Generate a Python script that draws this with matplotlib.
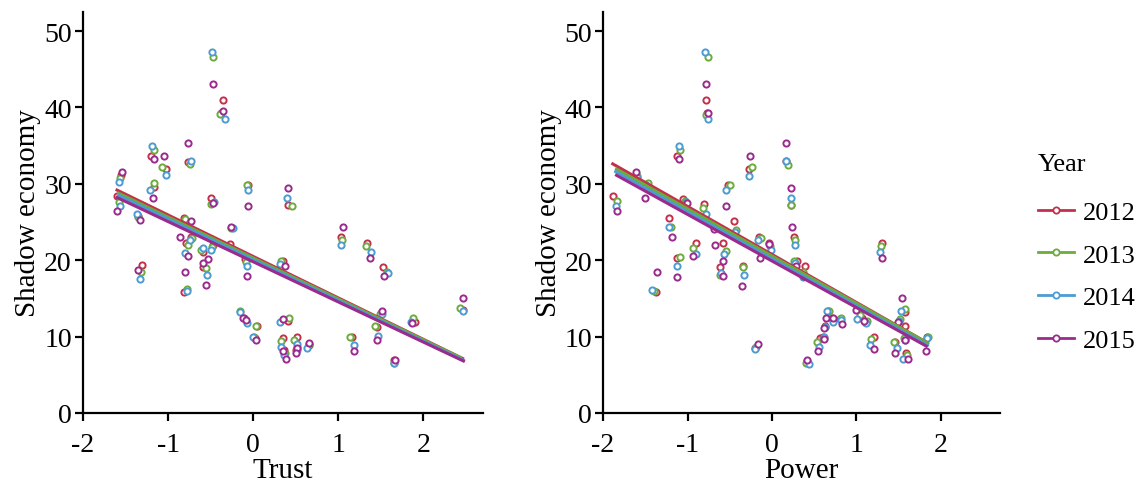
import numpy as np
import matplotlib
matplotlib.use("Agg")
import matplotlib.pyplot as plt
from matplotlib.lines import Line2D

# ---------- Data ----------
YEARS = [2012, 2013, 2014, 2015]
COLORS = ["#C4304C", "#6CAB3C", "#4C9BD2", "#9B2A8E"]

# Trust panel: one list per year
trust_x = [
    [-1.55, -1.60, -1.35, -1.31, -1.20, -1.03, -1.17, -0.77, -0.815, -0.73, -0.79, -0.81, -0.59, -0.585,
     -0.35, -0.38, -0.49, -0.27, -0.47, -0.06, -0.10, 0.41, 0.35, -0.11, 0.04, 0.02, 0.41, 0.35, 0.36,
     0.51, 0.50, 0.66, 1.03, 1.34, 1.525, 1.16, 1.50, 1.46, 1.90, 1.66, 2.46],
    [-1.56, -1.58, -1.35, -1.32, -1.16, -1.07, -1.17, -0.74, -0.80, -0.72, -0.76, -0.78, -0.61, -0.55,
     -0.47, -0.39, -0.50, -0.26, -0.48, -0.07, -0.08, 0.455, 0.33, -0.15, 0.03, 0.01, 0.415, 0.33, 0.37,
     0.48, 0.52, 0.66, 1.045, 1.33, 1.57, 1.14, 1.49, 1.435, 1.88, 1.65, 2.435],
    [-1.58, -1.565, -1.36, -1.33, -1.19, -1.03, -1.21, -0.73, -0.74, -0.74, -0.80, -0.78, -0.59, -0.54,
     -0.48, -0.33, -0.46, -0.24, -0.49, -0.06, -0.07, 0.40, 0.31, -0.16, -0.07, 0.0, 0.32, 0.33, 0.36,
     0.52, 0.52, 0.635, 1.035, 1.38, 1.58, 1.18, 1.51, 1.47, 1.86, 1.65, 2.47],
    [-1.545, -1.60, -1.33, -1.35, -1.17, -1.05, -1.18, -0.765, -0.73, -0.855, -0.765, -0.80, -0.53, -0.56,
     -0.47, -0.36, -0.47, -0.26, -0.59, -0.06, -0.07, 0.41, 0.37, -0.12, -0.09, 0.03, 0.35, 0.35, 0.38,
     0.51, 0.505, 0.65, 1.06, 1.37, 1.54, 1.18, 1.51, 1.45, 1.87, 1.67, 2.47],
]
trust_shadow = [
    [31.2, 28.4, 25.8, 19.4, 33.7, 31.9, 29.6, 32.8, 25.5, 23.1, 22.3, 15.8, 21.1, 19.1, 41.0, 39.3,
     28.1, 22.1, 22.0, 29.9, 20.2, 27.2, 19.95, 12.4, 11.4, 9.8, 12.0, 9.8, 8.2, 10.0, 8.3, 8.9, 23.1,
     22.3, 19.1, 10.0, 13.1, 11.3, 11.9, 7.0, 13.5],
    [30.8, 27.6, 25.6, 18.4, 34.4, 32.2, 30.1, 32.6, 25.4, 22.9, 22.0, 16.2, 21.3, 19.0, 46.6, 39.2,
     27.4, 24.2, 21.7, 29.8, 19.8, 27.1, 19.95, 13.4, 11.4, 9.9, 12.4, 9.4, 7.9, 9.55, 8.6, 9.0, 22.7,
     21.8, 18.4, 10.0, 13.0, 11.35, 12.4, 6.6, 13.7],
    [30.3, 27.1, 26.0, 17.6, 35.0, 31.1, 29.2, 33.0, 25.0, 22.6, 20.9, 16.0, 21.6, 18.1, 47.2, 38.5,
     27.6, 24.2, 21.4, 29.2, 19.3, 28.1, 19.5, 13.2, 11.8, 10.0, 11.9, 8.7, 7.6, 9.0, 8.2, 8.5, 22.0,
     21.1, 18.3, 8.9, 12.9, 10.1, 11.9, 6.5, 13.35],
    [31.6, 26.4, 25.3, 18.7, 33.3, 33.7, 28.1, 35.3, 25.2, 23.0, 20.5, 18.4, 20.2, 16.7, 43.1, 39.5,
     27.5, 24.3, 19.7, 27.1, 17.9, 29.5, 19.2, 12.5, 12.2, 9.6, 12.3, 8.15, 7.1, 8.5, 7.85, 9.1, 24.3,
     20.3, 17.9, 8.15, 13.3, 9.5, 11.8, 7.0, 15.1],
]

# Power panel: one list per year
power_x = [
    [-1.885, -1.61, -1.48, -1.12, -1.05, -1.22, -1.13, -1.37, -0.905, -0.78, -0.77, -0.81, -0.58, -0.62,
     -0.52, -0.445, -0.27, -0.34, -0.15, -0.03, -0.20, 0.17, 0.225, 0.265, 0.30, 0.39, 0.42, 0.57, 0.60,
     0.625, 0.66, 0.71, 0.81, 1.06, 1.10, 1.21, 1.305, 1.57, 1.58, 1.46, 1.59, 1.57, 1.83],
    [-1.84, -1.60, -1.47, -1.09, -1.03, -1.20, -1.085, -1.40, -0.94, -0.76, -0.78, -0.82, -0.55, -0.62,
     -0.50, -0.425, -0.24, -0.34, -0.13, -0.02, -0.19, 0.195, 0.225, 0.27, 0.26, 0.37, 0.40, 0.535, 0.61,
     0.625, 0.68, 0.72, 0.815, 1.04, 1.12, 1.175, 1.29, 1.57, 1.52, 1.45, 1.60, 1.56, 1.845],
    [-1.85, -1.60, -1.49, -1.105, -1.02, -1.22, -1.125, -1.415, -0.905, -0.79, -0.76, -0.78, -0.57, -0.60,
     -0.54, -0.44, -0.275, -0.33, -0.16, -0.01, -0.20, 0.17, 0.225, 0.275, 0.27, 0.37, 0.44, 0.56, 0.61,
     0.63, 0.65, 0.72, 0.82, 1.005, 1.11, 1.165, 1.28, 1.53, 1.50, 1.48, 1.55, 1.57, 1.84],
    [-1.84, -1.605, -1.50, -1.10, -1.01, -1.18, -1.125, -1.36, -0.94, -0.78, -0.76, -0.69, -0.58, -0.58,
     -0.54, -0.68, -0.26, -0.35, -0.14, -0.03, -0.17, 0.165, 0.225, 0.24, 0.29, 0.38, 0.41, 0.55, 0.61,
     0.62, 0.64, 0.72, 0.825, 0.99, 1.09, 1.21, 1.305, 1.54, 1.495, 1.46, 1.61, 1.57, 1.825],
]
power_shadow = [
    [28.4, 31.2, 30.0, 33.7, 28.0, 25.5, 20.25, 15.8, 22.25, 41.0, 39.3, 27.4, 22.2, 19.1, 29.9, 25.2,
     31.9, 19.3, 23.0, 22.25, 8.5, 33.0, 27.2, 23.1, 19.85, 19.3, 6.8, 9.8, 9.9, 11.4, 13.3, 12.5, 12.3,
     12.4, 11.9, 10.0, 22.3, 13.2, 11.35, 9.25, 7.8, 9.7, 9.9],
    [27.8, 31.0, 30.05, 34.4, 27.8, 24.4, 20.4, 16.0, 21.6, 46.6, 39.0, 26.8, 21.25, 18.1, 29.8, 24.0,
     32.2, 19.1, 22.9, 21.9, 8.6, 32.5, 27.2, 22.7, 19.85, 18.5, 6.6, 9.25, 9.8, 11.2, 13.4, 12.2, 12.5,
     12.8, 12.0, 9.7, 21.8, 13.6, 12.3, 9.3, 7.6, 9.8, 10.0],
    [27.1, 30.9, 29.9, 35.0, 27.6, 24.3, 19.3, 16.1, 20.8, 47.2, 38.5, 26.0, 20.8, 18.3, 29.2, 23.7,
     31.0, 18.1, 22.6, 21.4, 8.4, 33.0, 28.1, 22.0, 19.6, 17.75, 6.4, 8.7, 10.0, 11.3, 13.3, 11.9, 12.2,
     12.3, 11.8, 8.85, 21.1, 13.4, 12.0, 8.5, 7.1, 9.6, 9.8],
    [26.4, 31.6, 28.1, 33.3, 27.5, 23.0, 17.85, 18.4, 20.5, 43.1, 39.3, 24.1, 19.85, 17.9, 27.1, 22.0,
     33.7, 16.65, 20.25, 22.1, 9.0, 35.3, 29.5, 24.3, 19.3, 17.9, 6.9, 8.15, 9.7, 11.1, 12.5, 12.4, 11.65,
     13.5, 12.0, 8.4, 20.3, 15.1, 11.9, 7.8, 7.1, 9.5, 8.15],
]

# fitted lines per year (intercept, slope)
trust_fit = [(20.5, -5.43), (20.3, -5.36), (20.07, -5.33), (19.8, -5.26)]
power_fit = [(20.76, -6.29), (20.55, -6.19), (20.2, -6.16), (19.9, -6.10)]

# ---------- Style ----------
plt.rcParams["font.family"] = ["Liberation Serif", "DejaVu Serif"]
TICK_FS = 20
LABEL_FS = 21


def draw_panel(ax, xs, ys, fits, xlabel):
    for i in range(len(YEARS)):
        x = np.array(xs[i])
        y = np.array(ys[i])
        ax.scatter(x, y, s=20, facecolors="white", edgecolors=COLORS[i],
                   linewidths=1.4, zorder=3)
    for i in range(len(YEARS)):
        x = np.array(xs[i])
        b0, b1 = fits[i]
        xl = np.array([x.min(), x.max()])
        ax.plot(xl, b0 + b1 * xl, color=COLORS[i], lw=2.2, zorder=4)
    ax.set_xlim(-2, 2.7)
    ax.set_ylim(0, 52.5)
    ax.set_xticks([-2, -1, 0, 1, 2])
    ax.set_yticks([0, 10, 20, 30, 40, 50])
    ax.set_xticklabels(["-2", "-1", "0", "1", "2"])
    for side in ["top", "right"]:
        ax.spines[side].set_visible(False)
    for side in ["left", "bottom"]:
        ax.spines[side].set_linewidth(1.6)
    ax.tick_params(direction="out", length=6, width=1.6, labelsize=TICK_FS)
    ax.tick_params(axis="x", pad=8)
    ax.tick_params(axis="y", pad=2)
    ax.set_xlabel(xlabel, fontsize=LABEL_FS, labelpad=0)
    ax.set_ylabel("Shadow economy", fontsize=LABEL_FS, labelpad=2)


fig = plt.figure(figsize=(11.41, 4.89), dpi=100)
ax1 = fig.add_axes([0.0727, 0.1534, 0.3506, 0.82])
ax2 = fig.add_axes([0.5285, 0.1534, 0.3480, 0.82])

draw_panel(ax1, trust_x, trust_shadow, trust_fit, "Trust")
draw_panel(ax2, power_x, power_shadow, power_fit, "Power")

handles = [Line2D([0], [0], color=c, lw=2, marker="o", markersize=4.5,
                  markerfacecolor="white", markeredgewidth=1.3) for c in COLORS]
leg = fig.legend(handles, [str(y) for y in YEARS], title="Year", loc="center left",
                 bbox_to_anchor=(0.889, 0.481), frameon=False, fontsize=19,
                 title_fontsize=19, handlelength=1.36, handletextpad=0.35, labelspacing=0.73)
leg._legend_box.align = "left"
leg._legend_box.sep = 18  # a bit more room under the title

fig.savefig("out.png", dpi=100)
